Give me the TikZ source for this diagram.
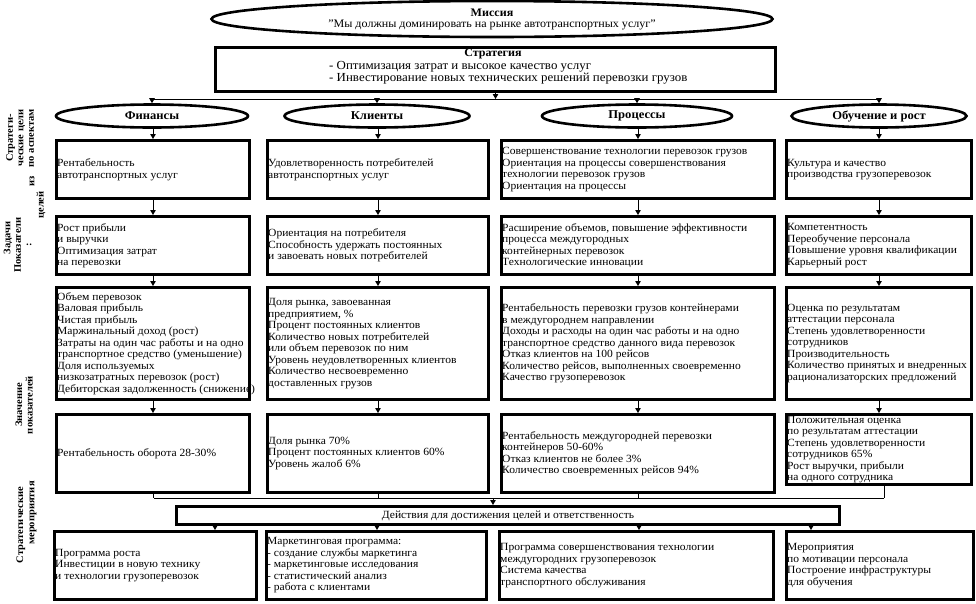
\documentclass[tikz,border=0pt]{standalone}
\usepackage{fontspec}
\setmainfont{Liberation Serif}[FakeStretch=1.05]
\usetikzlibrary{arrows.meta,shapes.geometric,calc}
\newcommand\bx[6]{%
  \node[box,minimum width=#4pt,minimum height=#5pt] (#1) at (#2,#3) {};
  \node[tx] (#1t) at ([xshift=2pt]#1.west) {#6};}
\begin{document}
\begin{tikzpicture}[x=1pt,y=-1pt,
  txt/.style={font=\fontsize{11pt}{11.5pt}\selectfont},
  tx/.style={txt,anchor=west,align=left,inner sep=0pt},
  box/.style={draw,line width=3pt,anchor=north west,inner sep=0pt},
  oval/.style={draw,ellipse,line width=2.6pt,inner sep=0pt,font=\fontsize{12pt}{12pt}\selectfont\bfseries},
  lab/.style={font=\fontsize{10pt}{10.5pt}\selectfont\bfseries,rotate=90,align=center,inner sep=0pt},
  con/.style={line width=0.9pt},
  arr/.style={line width=0.9pt,-{Triangle[width=5.5pt,length=5pt]}}
]
\useasboundingbox (0,0) rectangle (976,603);
\fill[white] (0,0) rectangle (976,603);

% mission and strategy
\node[oval,minimum width=561pt,minimum height=36pt,align=center,font=\fontsize{11.5pt}{11pt}\selectfont\bfseries] (mis) at (492,19)
  {Миссия\\\mdseries "Мы должны доминировать на рынке автотранспортных услуг"};
\node[box,minimum width=560pt,minimum height=44pt] (str) at (214,46) {};
\node[font=\fontsize{11.5pt}{11.5pt}\selectfont\bfseries,inner sep=0pt] (strt) at (493,54) {Стратегия};
\node[font=\fontsize{12.3pt}{11.8pt}\selectfont,align=left,anchor=north west,inner sep=0pt] (strb) at (329,61)
  {- Оптимизация затрат и высокое качество услуг\\- Инвестирование новых технических решений перевозки грузов};

% bus under strategy
\coordinate (bus1l) at (153,99);
\coordinate (bus1r) at (880,99);
\draw[arr] (str.south) -- (str.south |- bus1l);
\draw[con] (bus1l) -- (bus1r);

% perspective ellipses
\node[oval,minimum width=192pt,minimum height=23pt] (e1) at (152,116) {Финансы};
\node[oval,minimum width=185pt,minimum height=23pt] (e2) at (377,116) {Клиенты};
\node[oval,minimum width=190pt,minimum height=23pt] (e3) at (637,116) {Процессы};
\node[oval,minimum width=175pt,minimum height=23pt] (e4) at (879,116) {Обучение и рост};
\foreach \e in {e1,e2,e3,e4} {\draw[arr] (\e.north |- bus1l) -- (\e.north);}

% row 1
\bx{f1}{55}{139}{193}{58}{Рентабельность\\автотранспортных услуг}
\bx{c1}{266}{139}{221}{58}{Удовлетворенность потребителей\\автотранспортных услуг}
\bx{p1}{500}{139}{273}{58}{Совершенствование технологии перевозок грузов\\Ориентация на процессы совершенствования\\технологии перевозок грузов\\Ориентация на процессы}
\bx{o1}{785}{139}{185}{58}{Культура и качество\\производства грузоперевозок}

% row 2
\bx{f2}{55}{215}{193}{58}{Рост прибыли\\и выручки\\Оптимизация затрат\\на перевозки}
\bx{c2}{266}{215}{221}{58}{Ориентация на потребителя\\Способность удержать постоянных\\и завоевать новых потребителей}
\bx{p2}{500}{215}{273}{58}{Расширение объемов, повышение эффективности\\процесса междугородных\\контейнерных перевозок\\Технологические инновации}
\bx{o2}{785}{215}{185}{58}{Компетентность\\Переобучение персонала\\Повышение уровня квалификации\\Карьерный рост}

% row 3
\bx{f3}{55}{286}{193}{112}{Объем перевозок\\Валовая прибыль\\Чистая прибыль\\Маржинальный доход (рост)\\Затраты на один час работы и на одно\\транспортное средство (уменьшение)\\Доля используемых\\низкозатратных перевозок (рост)\\Дебиторская задолженность (снижение)}
\bx{c3}{266}{286}{221}{112}{Доля рынка, завоеванная\\предприятием, \%\\Процент постоянных клиентов\\Количество новых потребителей\\или объем перевозок по ним\\Уровень неудовлетворенных клиентов\\Количество несвоевременно\\доставленных грузов}
\bx{p3}{500}{286}{273}{112}{Рентабельность перевозки грузов контейнерами\\в междугороднем направлении\\Доходы и расходы на один час работы и на одно\\транспортное средство данного вида перевозок\\Отказ клиентов на 100 рейсов\\Количество рейсов, выполненных своевременно\\Качество грузоперевозок}
\bx{o3}{785}{286}{185}{112}{Оценка по результатам\\аттестации персонала\\Степень удовлетворенности\\сотрудников\\Производительность\\Количество принятых и внедренных\\рационализаторских предложений}

% row 4
\bx{f4}{55}{413}{193}{78}{Рентабельность оборота 28-30\%}
\bx{c4}{266}{413}{221}{78}{Доля рынка 70\%\\Процент постоянных клиентов 60\%\\Уровень жалоб 6\%}
\bx{p4}{500}{413}{273}{78}{Рентабельность междугородней перевозки\\контейнеров 50-60\%\\Отказ клиентов не более 3\%\\Количество своевременных рейсов 94\%}
\bx{o4}{785}{413}{185}{70}{Положительная оценка\\по результатам аттестации\\Степень удовлетворенности\\сотрудников 65\%\\Рост выручки, прибыли\\на одного сотрудника}

% vertical arrows in columns
\foreach \c in {f,c,p,o} {
  \draw[arr] (\c1.north |- e1.south) -- (\c1.north);
  \draw[arr] (\c1.south) -- (\c2.north);
  \draw[arr] (\c2.south) -- (\c3.north);
  \draw[arr] (\c3.south) -- (\c4.north);
}

% bus above actions
\coordinate (bus2l) at (154,498);
\coordinate (bus2r) at (884,498);
\draw[con] (bus2l) -- (bus2r);
\draw[con] (f4.south) -- (f4.south |- bus2l);
\draw[con] (c4.south) -- (c4.south |- bus2l);
\draw[con] (p4.south) -- (p4.south |- bus2l);
\draw[con] (bus2r) -- (o4.south -| bus2r);

\node[box,minimum width=663pt,minimum height=18pt] (act) at (175,505) {};
\node[txt,inner sep=0pt] (actt) at (act.center) {Действия для достижения целей и ответственность};
\coordinate (ain) at (493,498);
\draw[arr] (ain) -- (act.north -| ain);

% row 5
\bx{f5}{53}{530}{202}{68}{Программа роста\\Инвестиции в новую технику\\и технологии грузоперевозок}
\bx{c5}{265}{530}{220}{68}{Маркетинговая программа:\\- создание службы маркетинга\\- маркетинговые исследования\\- статистический анализ\\- работа с клиентами}
\bx{p5}{498}{530}{274}{68}{Программа совершенствования технологии\\междугородних грузоперевозок\\Система качества\\транспортного обслуживания}
\bx{o5}{785}{530}{187}{68}{Мероприятия\\по мотивации персонала\\Построение инфраструктуры\\для обучения}
\coordinate (a1) at (215,523);
\coordinate (a2) at (377,523);
\coordinate (a3) at (639,523);
\coordinate (a4) at (811,523);
\draw[arr] (a1) -- (f5.north -| a1);
\draw[arr] (a2) -- (c5.north -| a2);
\draw[arr] (a3) -- (p5.north -| a3);
\draw[arr] (a4) -- (o5.north -| a4);

% left labels
\node[lab] (l1) at (20,138) {Стратеги-\\ческие цели\\по аспектам};
\node[lab] (l2) at (8,238) {Задачи};
\node[lab] (l3) at (23,245) {Показатели\\:};
\node[lab] (l4a) at (32,181) {из};
\node[lab] (l4b) at (41,205) {целей};
\node[lab] (l5) at (24,405) {Значение\\показателей};
\node[lab] (l6a) at (21,525) {Стратегические};
\node[lab] (l6b) at (33,513) {мероприятия};
\end{tikzpicture}
\end{document}
